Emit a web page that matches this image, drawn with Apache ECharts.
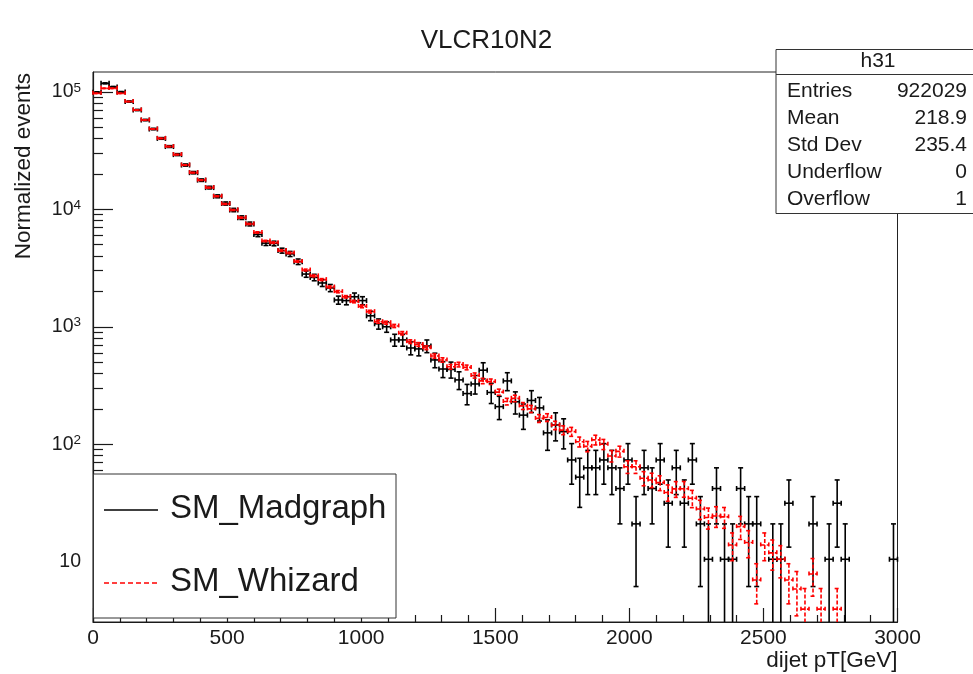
<!DOCTYPE html>
<html><head><meta charset="utf-8">
<script src="https://cdn.jsdelivr.net/npm/echarts@6/dist/echarts.min.js"></script>
<style>html,body{margin:0;padding:0;background:#fff}#c{width:973px;height:674px}</style>
</head><body><div id="c"></div><script>
// ---------- data ----------
const chartTitle = 'VLCR10N2';
const xAxisTitle = 'dijet pT[GeV]';
const yAxisTitle = 'Normalized events';
const legendNames = ['SM_Madgraph', 'SM_Whizard'];
const binWidthGeV = 30;           // 100 bins from 0 to 3000 GeV
const xMin = 0, xMax = 3000;
const yMin = 3.07, yMax = 1.474e5;
const yMajorTicks = [10, 100, 1000, 10000, 100000];
const yMinorTicks = [4,5,6,7,8,9,20,30,40,50,60,70,80,90,200,300,400,500,600,700,800,900,
  2000,3000,4000,5000,6000,7000,8000,9000,20000,30000,40000,50000,60000,70000,80000,90000];

const madgraphValues = [
  99000,118000,110000,99500,82600,70000,57500,48200,40100,34200,
  29200,23800,20500,17700,15300,12900,11200,9860,8490,7500,
  6100,5150,5120,4450,4170,3580,2810,2630,2360,2140,
  1690,1670,1800,1670,1240,1060,1000,773,773,660,
  648,687,522,437,433,353,270,326,427,276,
  209,346,230,177,236,204,125,146,128,73.5,
  52.5,63,63,73.5,63,42,73.5,21,63,42,
  73.5,31.5,63,31.5,73.5,21,10.5,42,10.5,10.5,
  42,21,21,0,10.5,10.5,31.5,0,0,21,
  0,10.5,31.5,10.5,0,0,0,0,0,10.5
];
const whizardValues = [
  97000,107000,107000,97000,82600,70000,57500,48200,40100,34200,
  29200,23800,20500,17700,15300,12900,11100,9860,8490,7500,
  6350,5370,5200,4450,4250,3600,3040,2710,2520,2180,
  1990,1800,1640,1490,1345,1105,1083,1016,881,747,
  707,664,564,522,457,477,451,385,346,341,
  278,231,246,212,200,166,169,145,132,128,
  105,96,109,100,79.5,87,64.4,64.4,51.4,49.7,
  47.1,38.9,41.7,41.8,34.7,28.1,23.8,24.5,24.1,13.9,
  19.9,14.6,7.0,13.9,11.9,10.5,7.0,5.86,3.95,7.87,
  3.95,0,3.95,0,0,0,0,0,0,0
];
// weight of one raw event (read from the discrete levels in the tail)
const madgraphEventWeight = 10.5;
const whizardEventWeight = 0.98;

const statsTitle = 'h31';
const statsLabels = ['Entries', 'Mean', 'Std Dev', 'Underflow', 'Overflow'];
const statsValues = ['922029', '218.9', '235.4', '0', '1'];

// ---------- chart ----------
const FONT = '"Liberation Sans", Arial, Helvetica, sans-serif';
const INK = '#1a1a1a';

function toPoints(values) {
  const out = [];
  values.forEach((v, i) => { if (v > 0) out.push([xMin + binWidthGeV * (i + 0.5), v]); });
  return out;
}

function makeRenderer(weight, color, dash) {
  return function (params, api) {
    const x = api.value(0), v = api.value(1);
    const err = Math.sqrt(weight * v);
    const hiV = v + err, loV = v - err;
    const c = api.coord([x, v]);
    const l = api.coord([x - binWidthGeV / 2, v]);
    const r = api.coord([x + binWidthGeV / 2, v]);
    const t = api.coord([x, Math.min(hiV, yMax)]);
    const b = api.coord([x, Math.max(loV, yMin)]);
    const cap = 2.5;
    const st = { stroke: color, lineWidth: 1.6, lineDash: dash };
    const ln = (x1, y1, x2, y2) => ({ type: 'line', shape: { x1, y1, x2, y2 }, style: st });
    const ch = [
      ln(l[0], c[1], r[0], c[1]),
      ln(l[0], c[1] - cap, l[0], c[1] + cap),
      ln(r[0], c[1] - cap, r[0], c[1] + cap),
      ln(c[0], t[1], c[0], b[1])
    ];
    if (hiV <= yMax) ch.push(ln(c[0] - cap, t[1], c[0] + cap, t[1]));
    if (loV >= yMin) ch.push(ln(c[0] - cap, b[1], c[0] + cap, b[1]));
    return { type: 'group', children: ch };
  };
}

const chart = echarts.init(document.getElementById('c'), null, { renderer: 'canvas' });

const gL = 93, gR = 897.5, gT = 72, gB = 622;

const statsX = 776, statsY = 49.5, statsRowH = 27;
const graphics = [
  // y-axis title
  { type: 'text', x: 24, y: 73, rotation: Math.PI / 2, z: 50,
    style: { text: yAxisTitle, font: '22.5px ' + FONT, fill: INK, align: 'right', verticalAlign: 'middle' } },
  // x-axis title
  { type: 'text', x: gR, y: 661, z: 50,
    style: { text: xAxisTitle, font: '22.5px ' + FONT, fill: INK, align: 'right', verticalAlign: 'middle' } },
  // legend box
  { type: 'rect', shape: { x: 93.5, y: 474, width: 302.5, height: 144 }, z: 40,
    style: { fill: '#fff', stroke: '#333', lineWidth: 1 } },
  { type: 'line', shape: { x1: 104, y1: 510, x2: 158, y2: 510 }, z: 41,
    style: { stroke: '#000', lineWidth: 1.3 } },
  { type: 'text', x: 170, y: 509, z: 41,
    style: { text: legendNames[0], font: '33px ' + FONT, fill: INK, verticalAlign: 'middle' } },
  { type: 'line', shape: { x1: 104, y1: 583, x2: 158, y2: 583 }, z: 41,
    style: { stroke: '#f00', lineWidth: 1.3, lineDash: [5, 3] } },
  { type: 'text', x: 170, y: 582, z: 41,
    style: { text: legendNames[1], font: '33px ' + FONT, fill: INK, verticalAlign: 'middle' } },
  // stats box
  { type: 'rect', shape: { x: statsX, y: statsY, width: 230, height: 164 }, z: 40,
    style: { fill: '#fff', stroke: '#333', lineWidth: 1 } },
  { type: 'line', shape: { x1: statsX, y1: 74.5, x2: 973, y2: 74.5 }, z: 41,
    style: { stroke: '#333', lineWidth: 1 } },
  { type: 'text', x: 878, y: 61.5, z: 41,
    style: { text: statsTitle, font: '21px ' + FONT, fill: INK, align: 'center', verticalAlign: 'middle' } }
];
statsLabels.forEach((lab, i) => {
  graphics.push({ type: 'text', x: 787, y: 91 + i * statsRowH, z: 41,
    style: { text: lab, font: '21px ' + FONT, fill: INK, verticalAlign: 'middle' } });
  graphics.push({ type: 'text', x: 967, y: 91 + i * statsRowH, z: 41,
    style: { text: statsValues[i], font: '21px ' + FONT, fill: INK, align: 'right', verticalAlign: 'middle' } });
});

chart.setOption({
  animation: false,
  backgroundColor: '#fff',
  title: { text: chartTitle, left: 'center', top: 23,
    textStyle: { fontFamily: FONT, fontSize: 26, fontWeight: 'normal', color: INK } },
  grid: { left: gL, right: 973 - gR, top: gT, bottom: 674 - gB, show: true,
    borderColor: '#222', borderWidth: 1, backgroundColor: 'transparent' },
  xAxis: {
    type: 'value', min: xMin, max: xMax, interval: 500,
    axisLine: { show: true, lineStyle: { color: INK, width: 1.2 } },
    axisTick: { show: true, inside: true, length: 14, lineStyle: { color: INK, width: 1.2 } },
    minorTick: { show: true, splitNumber: 5, length: 7, lineStyle: { color: INK, width: 1.2 } },
    splitLine: { show: false },
    axisLabel: { fontFamily: FONT, fontSize: 21, color: INK, margin: 6,
      formatter: function (v) { return String(v); } }
  },
  yAxis: [{
    type: 'log', logBase: 10, min: yMin, max: yMax, position: 'left',
    axisLine: { show: true, lineStyle: { color: INK, width: 1.2 } },
    axisTick: { show: true, inside: true, length: 20, customValues: yMajorTicks, lineStyle: { color: INK, width: 1.2 } },
    splitLine: { show: false },
    axisLabel: {
      customValues: yMajorTicks, margin: 12, color: INK,
      formatter: function (v) {
        const e = Math.round(Math.log10(v));
        return e === 1 ? '{b|10}' : '{b|10}{s|' + e + '}';
      },
      rich: {
        b: { fontFamily: FONT, fontSize: 19.5, color: INK, lineHeight: 22 },
        s: { fontFamily: FONT, fontSize: 13.5, color: INK, verticalAlign: 'top', lineHeight: 22 }
      }
    }
  }, {
    type: 'log', logBase: 10, min: yMin, max: yMax, position: 'left',
    axisLine: { show: false },
    axisTick: { show: true, inside: true, length: 10, customValues: yMinorTicks, lineStyle: { color: INK, width: 1.2 } },
    axisLabel: { show: false },
    splitLine: { show: false }
  }],
  graphic: graphics,
  series: [{
    name: legendNames[0], type: 'custom', z: 3,
    data: toPoints(madgraphValues), encode: { x: 0, y: 1 },
    renderItem: makeRenderer(madgraphEventWeight, '#000', null)
  }, {
    name: legendNames[1], type: 'custom', z: 4,
    data: toPoints(whizardValues), encode: { x: 0, y: 1 },
    renderItem: makeRenderer(whizardEventWeight, '#f00', [4, 2])
  }]
});
</script></body></html>
